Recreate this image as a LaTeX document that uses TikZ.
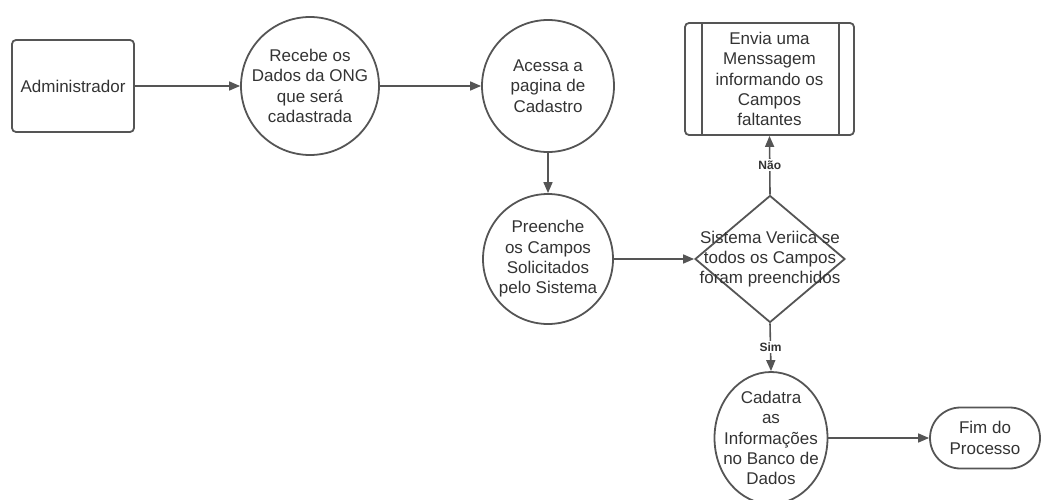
\documentclass[tikz,border=0pt]{standalone}
\usepackage{fontspec}
\setmainfont{Liberation Sans}
\usetikzlibrary{shapes.geometric,shapes.misc,arrows.meta}
\definecolor{ln}{HTML}{555555}
\definecolor{tx}{HTML}{333333}
\begin{document}
\begin{tikzpicture}[x=1pt,y=-1pt,
  every node/.style={text=tx,font=\fontsize{17}{20.3}\selectfont,align=center},
  shp/.style={draw=ln,line width=1.8pt},
  conn/.style={draw=ln,line width=1.6pt,-{Triangle[length=11pt,width=9pt]}},
  lbl/.style={fill=white,font=\bfseries\fontsize{12}{14}\selectfont,inner sep=1.5pt}]
\useasboundingbox (0,0) rectangle (1043,500);
\node[shp,rectangle,rounded corners=4pt,minimum width=122,minimum height=92,inner sep=0] (adm) at (73,86) {Administrador};
\node[shp,circle,minimum size=138,inner sep=0] (rec) at (310,86) {Recebe os\\Dados da ONG\\que será\\cadastrada};
\node[shp,circle,minimum size=132,inner sep=0] (ace) at (548,86) {Acessa a\\pagina de\\Cadastro};
\node[shp,circle,minimum size=130,inner sep=0] (pre) at (548,259) {Preenche\\os Campos\\Solicitados\\pelo Sistema};
\node[shp,diamond,minimum width=150,minimum height=127,inner sep=0] (dec) at (770,259) {};
\node at (dec) {Sistema Veriica se\\todos os Campos\\foram preenchidos};
\node[shp,rectangle,rounded corners=4pt,minimum width=169,minimum height=112,inner sep=0] (env) at (769.5,79) {Envia uma\\Menssagem\\informando os\\Campos\\faltantes};
\draw[ln,line width=1.8pt] ([xshift=18]env.north west) -- ([xshift=18]env.south west)
  ([xshift=-16]env.north east) -- ([xshift=-16]env.south east);
\node[shp,ellipse,minimum width=113,minimum height=132,inner sep=0] (cad) at (771,438) {};
\node at (cad) {Cadatra\\as\\Informações\\no Banco de\\Dados};
\node[shp,rounded rectangle,minimum width=110,minimum height=61,inner sep=0] (fim) at (985,438) {Fim do\\Processo};
\draw[conn] (adm) -- (rec);
\draw[conn] (rec) -- (ace);
\draw[conn] (ace) -- (pre);
\draw[conn] (pre.east) -- (dec.west);
\draw[conn] (dec.north) -- node[lbl,pos=0.5]{Não} (env.south);
\draw[conn] (dec.south) -- node[lbl,pos=0.5]{Sim} (cad.north);
\draw[conn] (cad.east) -- (fim.west);
\end{tikzpicture}
\end{document}
